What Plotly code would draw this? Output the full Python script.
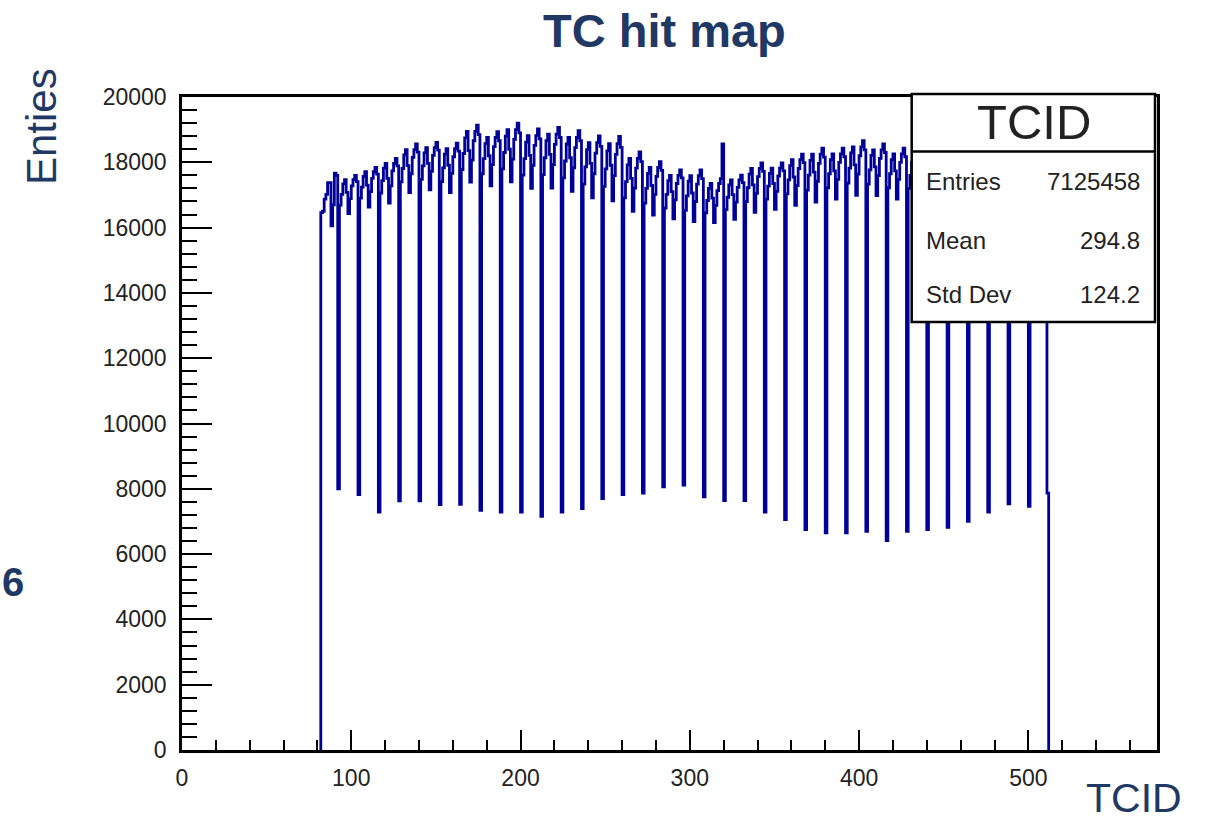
import plotly.graph_objects as go

# ---------------- data ----------------
tcid_first_bin = 82          # left edge of the first filled bin
# bins 82..91 (before the first dip)
first_counts = [16460, 16500, 16870, 17020, 17380, 17380, 16050, 16700, 17670, 17600]
# 35 modules of 12 bins each, the first bin of every module is the low "dip" bin
module_counts = [
    [8000, 16690, 17020, 17340, 17470, 17080, 16430, 16890, 17280, 17470, 17600, 17410],
    [7820, 16900, 17240, 17570, 17710, 17300, 16630, 17100, 17510, 17710, 17840, 17640],
    [7290, 17060, 17440, 17820, 17970, 17510, 16750, 17280, 17740, 17970, 18120, 17890],
    [7630, 17400, 17810, 18230, 18390, 17900, 17070, 17650, 18150, 18390, 18560, 18310],
    [7630, 17480, 17890, 18290, 18450, 17970, 17160, 17720, 18210, 18450, 18610, 18370],
    [7515, 17410, 17830, 18250, 18420, 17910, 17070, 17660, 18170, 18420, 18590, 18340],
    [7525, 17780, 18270, 18750, 18950, 18360, 17390, 18070, 18660, 18950, 19140, 18850],
    [7340, 17650, 18110, 18570, 18760, 18200, 17280, 17930, 18480, 18760, 18940, 18660],
    [7290, 17800, 18300, 18800, 19000, 18400, 17400, 18100, 18700, 19000, 19200, 18900],
    [7290, 17610, 18110, 18620, 18820, 18210, 17200, 17910, 18520, 18820, 19020, 18720],
    [7160, 17620, 18140, 18660, 18860, 18240, 17210, 17930, 18550, 18860, 19070, 18760],
    [7290, 17520, 18040, 18560, 18760, 18140, 17110, 17830, 18450, 18760, 18970, 18660],
    [7390, 17330, 17860, 18390, 18600, 17970, 16910, 17650, 18280, 18600, 18810, 18490],
    [7700, 17260, 17800, 18350, 18570, 17910, 16820, 17590, 18240, 18570, 18790, 18460],
    [7820, 16910, 17410, 17920, 18120, 17510, 16500, 17210, 17820, 18120, 18320, 18020],
    [7870, 16750, 17200, 17660, 17840, 17290, 16380, 17020, 17570, 17840, 18020, 17750],
    [8060, 16600, 17020, 17440, 17600, 17100, 16270, 16850, 17350, 17600, 17770, 17520],
    [8110, 16530, 16970, 17420, 17590, 17060, 16180, 16800, 17330, 17590, 17770, 17500],
    [7750, 16450, 16830, 17200, 17350, 16900, 16150, 16680, 17130, 17350, 17500, 18560],
    [7640, 16550, 16930, 17310, 17460, 17010, 16250, 16780, 17230, 17460, 17610, 17380],
    [7640, 16800, 17220, 17640, 17810, 17310, 16470, 17050, 17560, 17810, 17980, 17720],
    [7290, 16870, 17270, 17660, 17820, 17350, 16560, 17110, 17580, 17820, 17980, 17740],
    [7055, 17030, 17460, 17900, 18080, 17550, 16680, 17290, 17810, 18080, 18250, 17990],
    [6750, 17150, 17610, 18060, 18250, 17700, 16780, 17420, 17970, 18250, 18430, 18160],
    [6650, 17220, 17650, 18080, 18260, 17740, 16870, 17480, 18000, 18260, 18430, 18170],
    [6650, 17360, 17820, 18290, 18470, 17920, 16990, 17640, 18200, 18470, 18660, 18380],
    [6700, 17330, 17770, 18210, 18380, 17860, 16980, 17590, 18120, 18380, 18560, 18300],
    [6410, 17220, 17650, 18080, 18260, 17740, 16870, 17480, 18000, 18260, 18430, 18170],
    [6700, 17200, 17600, 18000, 18200, 17700, 16850, 17450, 17950, 18200, 18400, 18100],
    [6750, 17150, 17550, 17950, 18150, 17650, 16800, 17400, 17900, 18150, 18300, 18050],
    [6820, 17100, 17500, 17900, 18100, 17600, 16750, 17350, 17850, 18100, 18250, 18000],
    [7000, 17050, 17450, 17850, 18050, 17550, 16700, 17300, 17800, 18050, 18200, 17950],
    [7290, 17000, 17400, 17800, 18000, 17500, 16650, 17250, 17750, 18000, 18150, 17900],
    [7540, 16950, 17350, 17750, 17950, 17450, 16600, 17200, 17700, 17950, 18100, 17850],
    [7460, 16900, 17300, 17700, 17900, 17400, 16550, 17150, 17650, 17900, 18050, 7870],
]
x_range = [0, 576]
y_range = [0, 20000]
stats_title = "TCID"
stats_labels = ["Entries", "Mean", "Std Dev"]
stats_values = ["7125458", "294.8", "124.2"]

# ---------------- build histogram step line ----------------
counts = first_counts + [c for row in module_counts for c in row]
edges = list(range(tcid_first_bin, tcid_first_bin + len(counts) + 1))
xs = [edges[0]] + edges[:-1] + [edges[-1]]
ys = [0] + counts + [0]

HIST_COLOR = "#000099"
NAVY = "#1f3864"
TXT = "#222222"
FONT = "Liberation Sans, Arial, sans-serif"

W, H = 1208, 824
PL, PR, PT, PB = 182, 1157, 97, 750   # plot frame in pixels


def px(x):
    return (x - PL) / (PR - PL)


def py(y):
    return (PB - y) / (PB - PT)


fig = go.Figure()
fig.add_trace(go.Scatter(
    x=xs, y=ys, mode="lines",
    line=dict(color=HIST_COLOR, width=2.8, shape="hv"),
    hoverinfo="skip", showlegend=False,
))

axis_common = dict(
    showline=True, linecolor="black", linewidth=2.5, mirror=True,
    showgrid=False, zeroline=False, ticks="inside", tickcolor="black",
    tickwidth=2, tickformat="d",
    tickfont=dict(family=FONT, size=23, color=TXT),
)
fig.update_xaxes(
    range=x_range, tick0=0, dtick=100, ticklen=20, ticklabelstandoff=6,
    minor=dict(ticks="inside", ticklen=10, tickwidth=2, tickcolor="black", dtick=20, tick0=0),
    **axis_common,
)
fig.update_yaxes(
    range=y_range, tick0=0, dtick=2000, ticklen=30, ticklabelstandoff=8,
    minor=dict(ticks="inside", ticklen=15, tickwidth=2, tickcolor="black", dtick=400, tick0=0),
    **axis_common,
)

# stats box
bx0, bx1, by0, by1, bdiv = 911.7, 1155, 94, 322, 151.5
shapes = [
    dict(type="rect", xref="paper", yref="paper",
         x0=px(bx0), x1=px(bx1), y0=py(by1), y1=py(by0),
         fillcolor="white", line=dict(color="black", width=2.5), layer="above"),
    dict(type="line", xref="paper", yref="paper",
         x0=px(bx0), x1=px(bx1), y0=py(bdiv), y1=py(bdiv),
         line=dict(color="black", width=2.5), layer="above"),
]

annotations = [
    dict(text="<b>TC hit map</b>", x=px(664), y=py(31), xanchor="center", yanchor="middle",
         font=dict(family=FONT, size=47, color=NAVY)),
    dict(text="Enties", x=px(41), y=py(127), xanchor="center", yanchor="middle", textangle=-90,
         font=dict(family=FONT, size=42, color=NAVY)),
    dict(text="TCID", x=px(1134), y=py(798), xanchor="center", yanchor="middle",
         font=dict(family=FONT, size=41, color=NAVY)),
    dict(text="<b>6</b>", x=px(0), y=py(582), xanchor="left", yanchor="middle",
         font=dict(family=FONT, size=40, color=NAVY)),
    dict(text=stats_title, x=px(1034), y=py(122), xanchor="center", yanchor="middle",
         font=dict(family=FONT, size=49, color=TXT)),
]
row_y = [181, 240, 294]
for lab, val, yy in zip(stats_labels, stats_values, row_y):
    annotations.append(dict(text=lab, x=px(924), y=py(yy), xanchor="left", yanchor="middle",
                            font=dict(family=FONT, size=24, color=TXT)))
    annotations.append(dict(text=val, x=px(1142), y=py(yy), xanchor="right", yanchor="middle",
                            font=dict(family=FONT, size=24, color=TXT)))
for a in annotations:
    a.update(xref="paper", yref="paper", showarrow=False)

fig.update_layout(
    width=W, height=H,
    margin=dict(l=PL, r=W - PR, t=PT, b=H - PB),
    plot_bgcolor="white", paper_bgcolor="white",
    showlegend=False, shapes=shapes, annotations=annotations,
)

fig.write_html("out.html")
